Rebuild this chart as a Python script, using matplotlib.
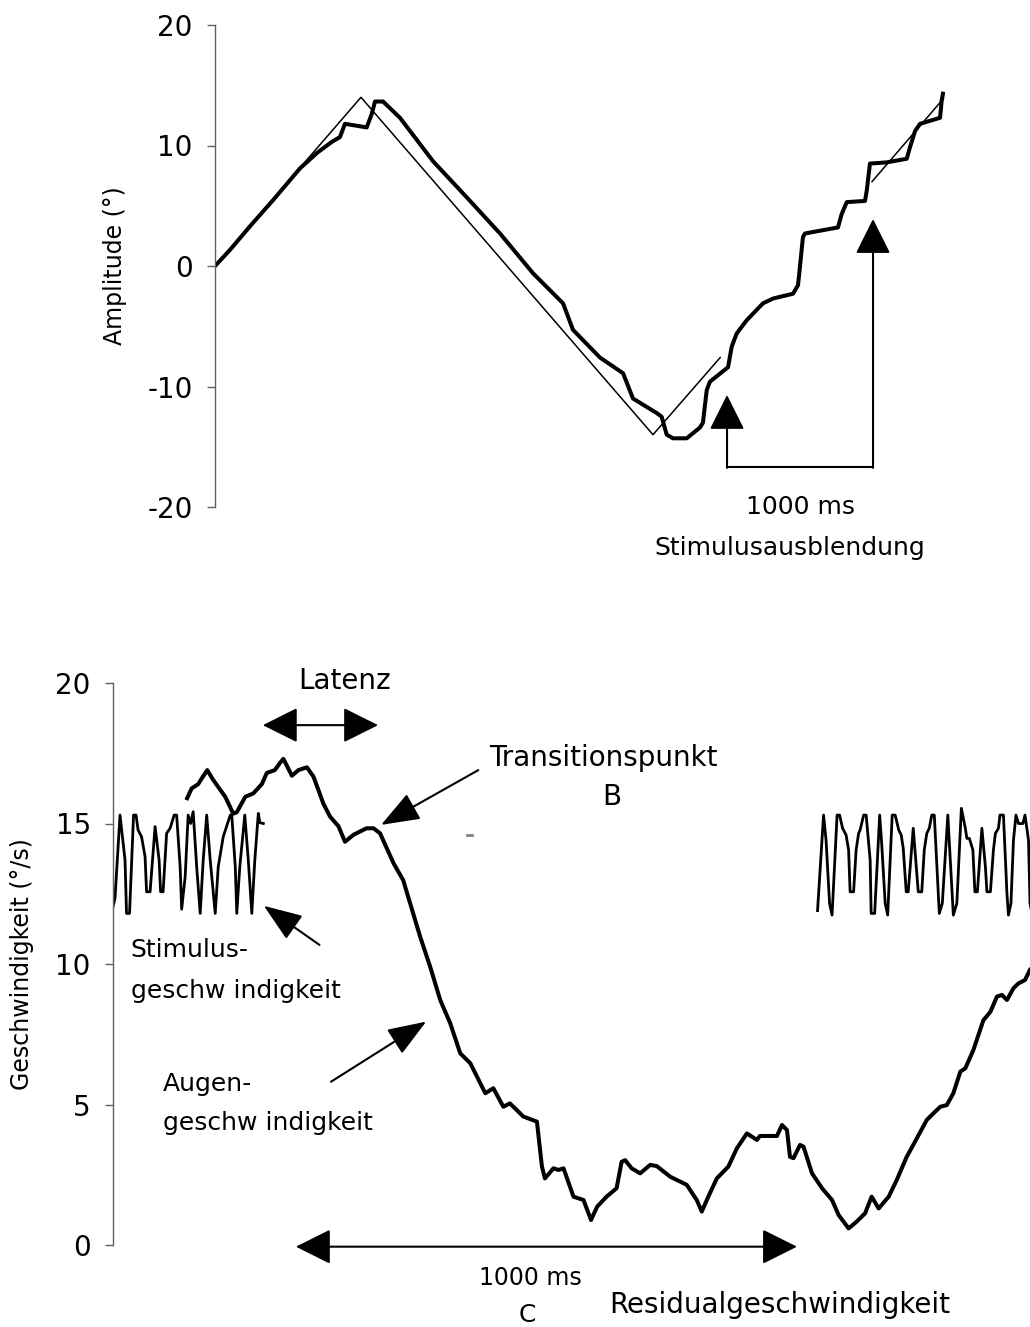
import numpy as np
import matplotlib
matplotlib.use('Agg')
import matplotlib.pyplot as plt
from matplotlib.patches import FancyArrowPatch

plt.rcParams['font.family'] = ['DejaVu Sans']
plt.rcParams['axes.unicode_minus'] = False

#top panel: position in degrees, time in ms
stim_t_a = [0, 1000, 3000, 3460]
stim_a = [0, 14, -14, -7.6]
stim_t_b = [4500, 4990]
stim_b = [7.0, 13.9]

eye_t = [0, 100, 240, 400, 582, 700, 800, 856, 890, 1039, 1073, 1096, 1151,
         1267, 1493, 1724, 1952, 2178, 2384, 2452, 2637, 2795, 2863, 3025,
         3059, 3094, 3137, 3231, 3322, 3342, 3368, 3390, 3514, 3539, 3573,
         3642, 3753, 3822, 3959, 3993, 4007, 4027, 4041, 4267, 4292, 4327,
         4452, 4464, 4486, 4601, 4738, 4760, 4795, 4829, 4966, 4977, 4986]
eye_pos = [0, 1.3, 3.3, 5.5, 8.1, 9.4, 10.3, 10.7, 11.8, 11.5, 12.6, 13.65, 13.65,
           12.3, 8.7, 5.7, 2.7, -0.6, -3.1, -5.3, -7.6, -8.9, -11.0, -12.2,
           -12.5, -14.0, -14.3, -14.3, -13.4, -13.0, -10.3, -9.6, -8.4, -6.7, -5.6,
           -4.5, -3.1, -2.7, -2.3, -1.6, 0, 2.4, 2.7, 3.2, 4.3, 5.3,
           5.4, 6.25, 8.5, 8.6, 8.9, 9.85, 11.2, 11.8, 12.3, 13.7, 14.3]

#bottom panel: velocity in deg/s, time in ms
vel_t = [148, 157, 170, 177, 188, 200, 210, 224, 240, 247, 264, 280, 297, 307,
         323, 333, 340, 350, 357, 370, 387, 400, 420, 433, 450, 463, 480, 506,
         520, 533, 560, 579, 599, 613, 633, 653, 673, 693, 713, 743, 759, 779,
         792, 819, 846, 856, 862, 879, 889, 899, 919, 939, 954, 966, 985, 1005,
         1015, 1022, 1035, 1052, 1072, 1085, 1112, 1145, 1165, 1175, 1188, 1205,
         1228, 1245, 1265, 1285, 1291, 1325, 1335, 1345, 1351, 1358, 1371, 1378,
         1395, 1415, 1435, 1448, 1468, 1484, 1501, 1514, 1528, 1548, 1564, 1584,
         1597, 1624, 1634, 1651, 1664, 1677, 1691, 1701, 1717, 1737, 1751, 1764,
         1774, 1784, 1797, 1807, 1820, 1830]
vel_eye = [15.9, 16.25, 16.4, 16.6, 16.9, 16.55, 16.3, 15.95, 15.35, 15.4, 15.95,
           16.07, 16.4, 16.8, 16.9, 17.15, 17.3, 16.95, 16.7, 16.9, 17.0, 16.67,
           15.7, 15.25, 14.9, 14.35, 14.6, 14.83, 14.83, 14.65, 13.58, 12.99, 11.8,
           10.97, 9.9, 8.72, 7.89, 6.82, 6.47, 5.4, 5.58, 4.92, 5.04, 4.57, 4.39,
           2.79, 2.37, 2.73, 2.67, 2.73, 1.72, 1.6, 0.89, 1.36, 1.72, 2.02, 2.96,
           3.02, 2.73, 2.55, 2.85, 2.81, 2.43, 2.14, 1.6, 1.19, 1.72, 2.37, 2.79,
           3.44, 3.97, 3.74, 3.88, 3.88, 4.27, 4.09, 3.14, 3.09, 3.56, 3.5, 2.55,
           2.02, 1.6, 1.07, 0.59, 0.83, 1.13, 1.72, 1.3, 1.72, 2.31, 3.14, 3.56,
           4.45, 4.63, 4.92, 4.98, 5.4, 6.17, 6.29, 6.94, 8.0, 8.3, 8.84, 8.9,
           8.72, 9.14, 9.31, 9.43, 9.79]

stimv_t_a = [0, 4, 14, 24, 27, 33, 41, 46, 50, 57, 64, 67, 74, 84, 92, 95, 100,
             107, 114, 122, 127, 134, 137, 144, 150, 155, 160, 167, 174, 180, 187,
             194, 204, 210, 220, 234, 237, 244, 247, 253, 263, 270, 277, 283, 290,
             293, 300]
stimv_a = [12.04, 12.34, 15.3, 13.7, 11.8, 11.8, 15.3, 15.3, 14.77, 14.53, 13.82,
           12.57, 12.57, 14.89, 13.7, 12.57, 12.57, 14.65, 14.83, 15.3, 15.3, 13.46,
           11.95, 13.1, 15.3, 15.0, 15.42, 13.46, 11.8, 13.7, 15.3, 13.7, 11.8,
           13.46, 14.53, 15.3, 15.3, 13.46, 11.8, 13.46, 15.3, 13.7, 11.8, 13.7,
           15.36, 15.03, 15.0]
stimv_t_b = [1406, 1418, 1423, 1430, 1435, 1445, 1450, 1456, 1463, 1468, 1471,
             1478, 1483, 1488, 1491, 1498, 1503, 1511, 1513, 1520, 1530, 1534,
             1541, 1546, 1555, 1561, 1568, 1573, 1577, 1583, 1587, 1597, 1607,
             1614, 1619, 1624, 1629, 1634, 1639, 1649, 1655, 1666, 1677, 1684,
             1693, 1701, 1704, 1709, 1716, 1720, 1725, 1734, 1741, 1744, 1751,
             1757, 1761, 1767, 1770, 1777, 1784, 1787, 1792, 1797, 1802, 1807,
             1816, 1820, 1827, 1830, 1834]
stimv_b = [11.9, 15.3, 14.41, 12.16, 11.74, 15.3, 15.3, 14.83, 14.59, 14.06, 12.57,
           12.57, 14.06, 14.65, 14.77, 15.3, 15.3, 13.7, 11.8, 11.8, 15.3, 14.29,
           12.16, 11.74, 15.3, 15.3, 14.77, 14.59, 14.12, 12.57, 12.57, 14.83, 12.57,
           12.57, 14.06, 14.65, 14.83, 15.3, 15.3, 11.8, 12.16, 15.3, 11.74, 12.16,
           15.54, 14.83, 14.47, 14.47, 14.06, 12.57, 12.57, 14.83, 13.46, 12.57, 12.57,
           14.06, 14.65, 14.83, 15.3, 15.3, 12.5, 11.74, 12.16, 14.41, 15.3, 15.0,
           15.0, 15.3, 14.41, 12.16, 11.8]
stray_t = [707, 717]
stray_v = [14.6, 14.6]

axis_grey = '#606060'


def style_axis(ax, ticks):
    for s in ['top', 'right', 'bottom']:
        ax.spines[s].set_visible(False)
    ax.spines['left'].set_color(axis_grey)
    ax.spines['left'].set_linewidth(1.0)
    ax.set_xticks([])
    ax.set_yticks(ticks)
    ax.tick_params(axis='y', direction='out', length=6, width=1.0,
                   color=axis_grey, labelsize=20, pad=10)


def arrow(ax, p0, p1, style='-|>', hl=20, hw=10, lw=1.5):
    a = FancyArrowPatch(p0, p1, arrowstyle=f'{style},head_length={hl},head_width={hw}',
                        mutation_scale=1, shrinkA=0, shrinkB=0, lw=lw,
                        color='black', clip_on=False)
    ax.add_patch(a)


fig = plt.figure(figsize=(10.3, 13.27), dpi=100)

#upper panel
ax1 = fig.add_axes([215/1030, 1-507/1327, 730/1030, 482/1327])
ax1.plot(stim_t_a, stim_a, color='black', lw=1.1)
ax1.plot(stim_t_b, stim_b, color='black', lw=1.1)
ax1.plot(eye_t, eye_pos, color='black', lw=2.9)
ax1.set_xlim(0, 5000)
ax1.set_ylim(-20, 20)
style_axis(ax1, [-20, -10, 0, 10, 20])
ax1.set_ylabel('Amplitude (°)', fontsize=17)
ax1.yaxis.set_label_coords(-0.12, 0.5)

#bracket marking the blanked interval
ax1.plot([3507, 4507], [-16.7, -16.7], color='black', lw=1.5, clip_on=False)
arrow(ax1, (3507, -16.75), (3507, -10.7), hl=22, hw=11)
arrow(ax1, (4507, -16.75), (4507, 3.9), hl=22, hw=11)
ax1.text(4007, -20.0, '1000 ms', fontsize=18, ha='center', va='center')
ax1.text(3938, -23.4, 'Stimulusausblendung', fontsize=18, ha='center', va='center')

#lower panel
ax2 = fig.add_axes([113/1030, 1-1245/1327, 917/1030, 562/1327])
ax2.plot(stimv_t_a, stimv_a, color='black', lw=2.0)
ax2.plot(stimv_t_b, stimv_b, color='black', lw=2.0)
ax2.plot(stray_t, stray_v, color='grey', lw=2.0)
ax2.plot(vel_t, vel_eye, color='black', lw=2.9)
ax2.set_xlim(0, 1830)
ax2.set_ylim(0, 20)
style_axis(ax2, [0, 5, 10, 15, 20])
ax2.set_ylabel('Geschwindigkeit (°/s)', fontsize=17)
ax2.yaxis.set_label_coords(-0.086, 0.5)

arrow(ax2, (299, 18.5), (529, 18.5), style='<|-|>', hl=22, hw=11)
ax2.text(463, 20.07, 'Latenz', fontsize=20, ha='center', va='center')

arrow(ax2, (729, 16.9), (535, 14.95), hl=24, hw=9)
ax2.text(978, 17.33, 'Transitionspunkt', fontsize=20, ha='center', va='center')
ax2.text(995, 15.95, 'B', fontsize=20, ha='center', va='center')

arrow(ax2, (412, 10.68), (301, 12.07), hl=24, hw=9)
ax2.text(35, 10.5, 'Stimulus-', fontsize=18, ha='left', va='center')
ax2.text(35, 9.04, 'geschw indigkeit', fontsize=18, ha='left', va='center')

arrow(ax2, (435, 5.81), (625, 7.95), hl=24, hw=9)
ax2.text(99, 5.73, 'Augen-', fontsize=18, ha='left', va='center')
ax2.text(99, 4.34, 'geschw indigkeit', fontsize=18, ha='left', va='center')

arrow(ax2, (365, -0.06), (1365, -0.06), style='<|-|>', hl=22, hw=11)
ax2.text(832, -1.17, '1000 ms', fontsize=17, ha='center', va='center')
ax2.text(826, -2.49, 'C', fontsize=18, ha='center', va='center')
ax2.text(1331, -2.14, 'Residualgeschwindigkeit', fontsize=20, ha='center', va='center')

plt.savefig('out.png', dpi=100)
